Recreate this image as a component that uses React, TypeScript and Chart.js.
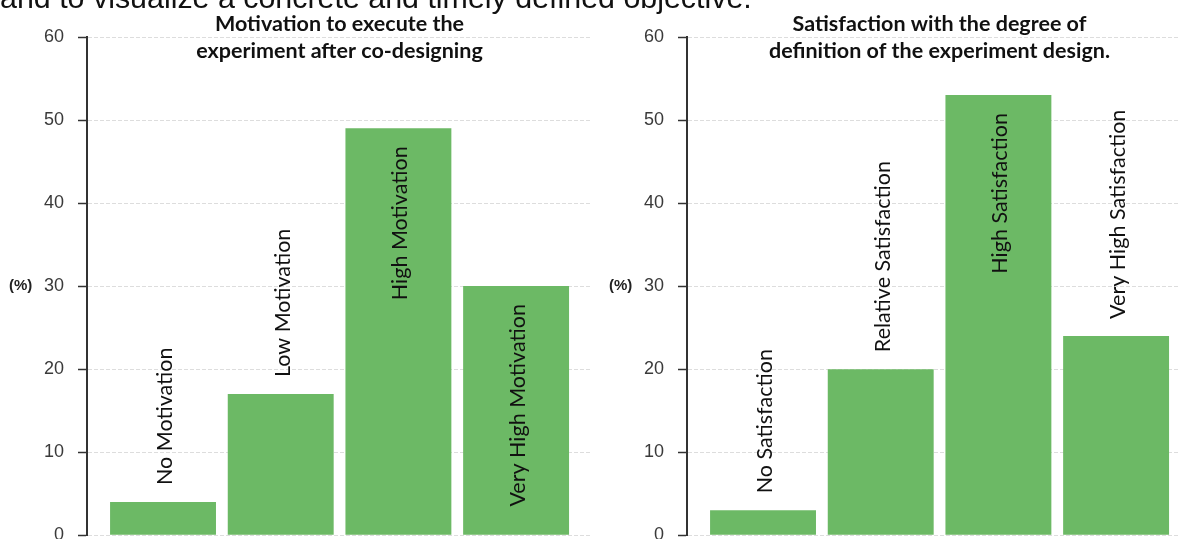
import React, { useEffect, useRef } from "react";
import { Chart, registerables } from "chart.js";

Chart.register(...registerables);

// ---- data ----
const motivationCategories = ["No Motivation", "Low Motivation", "High Motivation", "Very High Motivation"];
const motivationValues = [4, 17, 49, 30];
const motivationTitle = ["Motivation to execute the", "experiment after co-designing"];

const satisfactionCategories = ["No Satisfaction", "Relative Satisfaction", "High Satisfaction", "Very High Satisfaction"];
const satisfactionValues = [3, 20, 53, 24];
const satisfactionTitle = ["Satisfaction with the degree of", "definition of the experiment design."];

const yTickValues = [0, 10, 20, 30, 40, 50, 60];
const yAxisUnit = "(%)";
const introText = "and to visualize a concrete and timely defined objective.";

// ---- styling ----
const BAR_COLOR = "#6cb965";
const AXIS_COLOR = "#333333";
const GRID_COLOR = "#dddddd";
const INSIDE_THRESHOLD = 25; // tall bars carry their label inside

const titlePlugin = (lines: string[]) => ({
  id: "panelTitle",
  afterDraw(chart: any) {
    const { ctx, chartArea } = chart;
    const cx = (chartArea.left + chartArea.right) / 2;
    ctx.save();
    ctx.font = "bold 21.5px Lato";
    ctx.fillStyle = "#111111";
    ctx.textAlign = "center";
    ctx.textBaseline = "alphabetic";
    lines.forEach((line, i) => ctx.fillText(line, cx, 31 + i * 27));
    ctx.restore();
  },
});

const unitPlugin = {
  id: "unitLabel",
  afterDraw(chart: any) {
    const { ctx } = chart;
    const y = chart.scales.y.getPixelForValue(30);
    ctx.save();
    ctx.font = "bold 15px 'Liberation Sans'";
    ctx.fillStyle = "#222222";
    ctx.textAlign = "left";
    ctx.textBaseline = "middle";
    ctx.fillText(yAxisUnit, 9, y);
    ctx.restore();
  },
};

const barLabelPlugin = (labels: string[], values: number[]) => ({
  id: "barLabels",
  afterDatasetsDraw(chart: any) {
    const { ctx } = chart;
    const meta = chart.getDatasetMeta(0);
    ctx.save();
    ctx.font = "21.5px Lato";
    ctx.fillStyle = "#111111";
    ctx.textBaseline = "middle";
    meta.data.forEach((bar: any, i: number) => {
      const inside = values[i] > INSIDE_THRESHOLD;
      ctx.save();
      ctx.translate(bar.x + 2, inside ? bar.y + 18 : bar.y - 17);
      ctx.rotate(-Math.PI / 2);
      ctx.textAlign = inside ? "right" : "left";
      ctx.fillText(labels[i], 0, 0);
      ctx.restore();
    });
    ctx.restore();
  },
});

function buildConfig(labels: string[], values: number[], title: string[]): any {
  return {
    type: "bar",
    data: {
      datasets: [
        {
          data: values.map((v, i) => ({ x: i, y: v })),
          backgroundColor: BAR_COLOR,
          borderWidth: 0,
          barPercentage: 0.9,
          categoryPercentage: 1,
        },
      ],
    },
    options: {
      animation: false,
      responsive: false,
      maintainAspectRatio: false,
      layout: { padding: { left: 0, right: 8, top: 37, bottom: 23 } },
      plugins: {
        legend: { display: false },
        tooltip: { enabled: false },
        title: { display: false },
      },
      scales: {
        x: {
          type: "linear",
          display: false,
          min: -0.646,
          max: 3.645,
          offset: false,
          afterBuildTicks: (scale: any) => {
            scale.ticks = labels.map((_, i) => ({ value: i }));
          },
        },
        y: {
          min: 0,
          max: 60,
          afterFit: (scale: any) => {
            scale.width = 87;
          },
          afterBuildTicks: (scale: any) => {
            scale.ticks = yTickValues.map((v) => ({ value: v }));
          },
          ticks: {
            color: "#3a3a3a",
            font: { family: "'Liberation Sans'", size: 18 },
            padding: 14,
          },
          grid: {
            color: GRID_COLOR,
            lineWidth: 1,
            tickLength: 9,
            tickColor: AXIS_COLOR,
            tickWidth: 1.5,
            tickBorderDash: [],
          },
          border: { color: AXIS_COLOR, width: 2, dash: [4, 2] },
        },
      },
    },
    plugins: [barLabelPlugin(labels, values), titlePlugin(title), unitPlugin],
  };
}

function BarPanel(props: { labels: string[]; values: number[]; title: string[]; left: number }) {
  const ref = useRef<HTMLCanvasElement | null>(null);
  useEffect(() => {
    if (!ref.current) return;
    const chart = new Chart(ref.current, buildConfig(props.labels, props.values, props.title));
    return () => chart.destroy();
  }, []);
  return (
    <canvas
      ref={ref}
      width={600}
      height={560}
      style={{ position: "absolute", left: props.left, top: 0, width: 600, height: 560, display: "block" }}
    />
  );
}

export default function App() {
  return (
    <div
      style={{
        position: "fixed",
        left: 0,
        top: 0,
        width: 1178,
        height: 539,
        overflow: "hidden",
        background: "#ffffff",
      }}
    >
      <BarPanel labels={motivationCategories} values={motivationValues} title={motivationTitle} left={0} />
      <BarPanel labels={satisfactionCategories} values={satisfactionValues} title={satisfactionTitle} left={600} />
      <div
        style={{
          position: "absolute",
          left: 0,
          top: -18,
          fontFamily: "'Liberation Sans', Arial, sans-serif",
          fontSize: 30.4,
          lineHeight: "30px",
          color: "#111111",
          whiteSpace: "nowrap",
        }}
      >
        {introText}
      </div>
    </div>
  );
}
